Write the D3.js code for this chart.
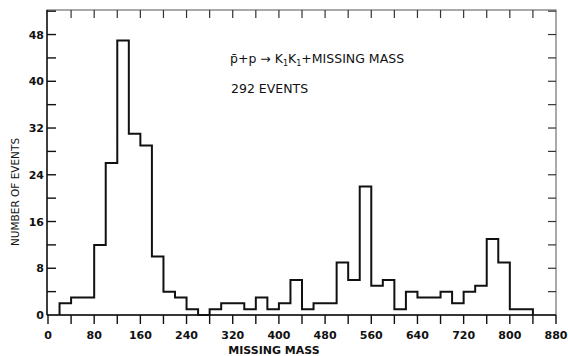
<!DOCTYPE html>
<html>
<head>
<meta charset="utf-8">
<script src="https://cdn.jsdelivr.net/npm/d3@7"></script>
<style>
  body { margin: 0; background: #fff; }
  svg { display: block; }
  text { font-family: "DejaVu Sans", sans-serif; fill: #111; }
</style>
</head>
<body>
<div id="chart"></div>
<script>
// bin lower edges (missing mass), bin width 20
const binStart = [20, 40, 60, 80, 100, 120, 140, 160, 180, 200, 220, 240, 260, 280, 300, 320, 340, 360, 380, 400,
  420, 440, 460, 480, 500, 520, 540, 560, 580, 600, 620, 640, 660, 680, 700, 720, 740, 760, 780, 800, 820];
const counts = [2, 3, 3, 12, 26, 47, 31, 29, 10, 4, 3, 1, 0, 1, 2, 2, 1, 3, 1, 2,
  6, 1, 2, 2, 9, 6, 22, 5, 6, 1, 4, 3, 3, 4, 2, 4, 5, 13, 9, 1, 1];
const binWidth = 20;
const xTickLabels = [0, 80, 160, 240, 320, 400, 480, 560, 640, 720, 800, 880];
const yTickLabels = [0, 8, 16, 24, 32, 40, 48];

const W = 568, H = 356;
const x = d3.scaleLinear().domain([0, 880]).range([48, 556]);
const y = d3.scaleLinear().domain([0, 52.2]).range([315, 10]);

const svg = d3.select("#chart")
  .append("svg")
  .attr("width", W)
  .attr("height", H);

// frame
svg.append("rect")
  .attr("x", x(0) - 1)
  .attr("y", y(52.2))
  .attr("width", x(880) - x(0) + 1)
  .attr("height", y(0) - y(52.2))
  .attr("fill", "none")
  .attr("stroke", "#555")
  .attr("stroke-width", 1);

svg.append("line")
  .attr("x1", x(0) - 1).attr("x2", x(880))
  .attr("y1", y(0)).attr("y2", y(0))
  .attr("stroke", "#111").attr("stroke-width", 1.6);

svg.append("line")
  .attr("x1", x(0) - 1).attr("x2", x(0) - 1)
  .attr("y1", y(52.2)).attr("y2", y(0))
  .attr("stroke", "#111").attr("stroke-width", 1.4);

// ticks
const xTicks = d3.range(0, 881, 40);
const yTicks = d3.range(0, 53, 4);

svg.append("g").selectAll("line")
  .data(xTicks)
  .join("line")
  .attr("x1", d => x(d)).attr("x2", d => x(d))
  .attr("y1", y(0)).attr("y2", y(0) + 9)
  .attr("stroke", "#111").attr("stroke-width", 1.4);

svg.append("g").selectAll("line")
  .data(xTicks.slice(1, -1))
  .join("line")
  .attr("x1", d => x(d)).attr("x2", d => x(d))
  .attr("y1", y(52.2)).attr("y2", y(52.2) + 8)
  .attr("stroke", "#333").attr("stroke-width", 1.2);

svg.append("g").selectAll("line")
  .data(yTicks.slice(1))
  .join("line")
  .attr("x1", x(0) - 1).attr("x2", x(0) + 8)
  .attr("y1", d => y(d)).attr("y2", d => y(d))
  .attr("stroke", "#111").attr("stroke-width", 1.4);

svg.append("g").selectAll("line")
  .data(yTicks.slice(1))
  .join("line")
  .attr("x1", x(880) - 8).attr("x2", x(880))
  .attr("y1", d => y(d)).attr("y2", d => y(d))
  .attr("stroke", "#333").attr("stroke-width", 1.2);

// tick labels
svg.append("g").selectAll("text")
  .data(xTickLabels)
  .join("text")
  .attr("x", d => x(d))
  .attr("y", 339)
  .attr("text-anchor", "middle")
  .style("font-size", "11px")
  .style("font-weight", "bold")
  .text(d => d);

svg.append("g").selectAll("text")
  .data(yTickLabels)
  .join("text")
  .attr("x", 44)
  .attr("y", d => y(d) + 4)
  .attr("text-anchor", "end")
  .style("font-size", "11px")
  .style("font-weight", "bold")
  .text(d => d);

// axis titles
svg.append("text")
  .attr("x", 274)
  .attr("y", 354)
  .attr("text-anchor", "middle")
  .style("font-size", "11px")
  .style("font-weight", "bold")
  .text("MISSING MASS");

svg.append("text")
  .attr("transform", "translate(19,192) rotate(-90)")
  .attr("text-anchor", "middle")
  .style("font-size", "10.5px")
  .text("NUMBER OF EVENTS");

// histogram outline
const pts = [[binStart[0], 0]];
binStart.forEach((b, i) => {
  pts.push([b, counts[i]]);
  pts.push([b + binWidth, counts[i]]);
});
pts.push([binStart[binStart.length - 1] + binWidth, 0]);

const line = d3.line()
  .x(d => x(d[0]))
  .y(d => y(d[1]));

svg.append("path")
  .datum(pts)
  .attr("fill", "none")
  .attr("stroke", "#111")
  .attr("stroke-width", 2)
  .attr("stroke-linejoin", "miter")
  .attr("d", line);

// annotation
const ann = svg.append("text")
  .attr("x", 230)
  .attr("y", 63)
  .style("font-size", "12.5px");
ann.append("tspan").text("p\u0304+p \u2192 K");
ann.append("tspan").attr("dy", 3).style("font-size", "8px").text("1");
ann.append("tspan").attr("dy", -3).text("K");
ann.append("tspan").attr("dy", 3).style("font-size", "8px").text("1");
ann.append("tspan").attr("dy", -3).text("+MISSING MASS");

svg.append("text")
  .attr("x", 231)
  .attr("y", 93)
  .style("font-size", "12.5px")
  .text("292 EVENTS");
</script>
</body>
</html>
